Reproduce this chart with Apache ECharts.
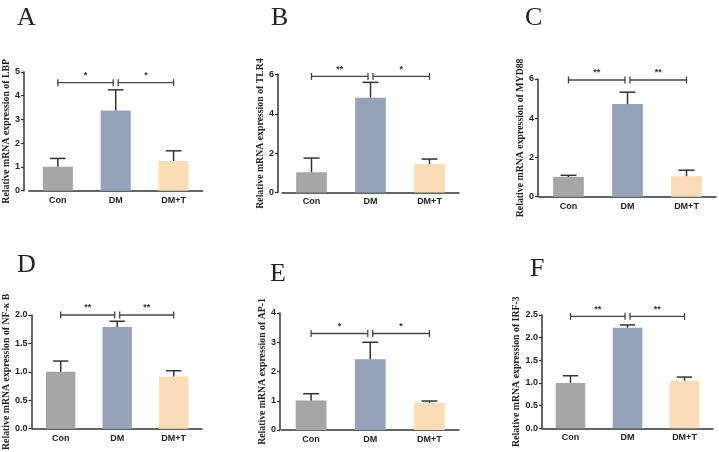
<!DOCTYPE html>
<html>
<head>
<meta charset="utf-8">
<script src="https://cdn.jsdelivr.net/npm/echarts@6/dist/echarts.min.js"></script>
<style>
html,body{margin:0;padding:0;background:#fff}
#chart{width:719px;height:452px}
</style>
</head>
<body>
<div id="chart"></div>
<script>
// groups and colours
var categories = ['Con', 'DM', 'DM+T'];
var barColors = ['#a6a6a6', '#95a2b8', '#fbdcb8'];

// one entry per panel A..F
var panelLetters = ['A', 'B', 'C', 'D', 'E', 'F'];
var genes = ['LBP', 'TLR4', 'MYD88', 'NF-κ B', 'AP-1', 'IRF-3'];

// mean and upper SD
var meanLBP = [1.01, 3.38, 1.25];   var sdLBP = [0.35, 0.87, 0.43];
var meanTLR4 = [1.03, 4.82, 1.45];  var sdTLR4 = [0.72, 0.78, 0.25];
var meanMYD88 = [1.01, 4.72, 1.05]; var sdMYD88 = [0.08, 0.61, 0.30];
var meanNFKB = [1.00, 1.79, 0.92];  var sdNFKB = [0.19, 0.10, 0.10];
var meanAP1 = [1.01, 2.42, 0.93];   var sdAP1 = [0.23, 0.58, 0.06];
var meanIRF3 = [1.00, 2.22, 1.05];  var sdIRF3 = [0.16, 0.06, 0.08];

var means = [meanLBP, meanTLR4, meanMYD88, meanNFKB, meanAP1, meanIRF3];
var sds = [sdLBP, sdTLR4, sdMYD88, sdNFKB, sdAP1, sdIRF3];

// y axes
var yMax = [5, 6, 6, 2, 4, 2.5];
var yStep = [1, 2, 2, 0.5, 1, 0.5];
var yDigits = [0, 0, 0, 1, 0, 1];

// significance brackets (Con vs DM, DM vs DM+T)
var bracketLevel = [4.55, 5.9, 5.95, 2.0, 3.3, 2.47];
var starsLeft = ['*', '**', '**', '**', '*', '**'];
var starsRight = ['*', '*', '**', '**', '*', '**'];

// panel boxes in px: plot left/right, y of max / y of zero, y-axis offset, name gap
var boxes = [
	{l: 25, r: 202.5, t: 72, b: 190.7, off: 5, gap: 10.5},
	{l: 282, r: 459, t: 74.5, b: 192.5, off: 4, gap: 9},
	{l: 539, r: 716, t: 79, b: 196.7, off: 1, gap: 12},
	{l: 30, r: 202, t: 315, b: 429.3, off: 1, gap: 19.5},
	{l: 281.5, r: 459, t: 313, b: 430, off: 1.5, gap: 11.5},
	{l: 542, r: 713, t: 315, b: 428.3, off: 0, gap: 20.5}
];
var letterPos = [[17, 7], [271, 7], [525, 7], [17, 254], [270, 263], [530, 258]];

var axisColor = '#333';
var sansFont = '"Liberation Sans", Arial, sans-serif';
var serifFont = '"Liberation Serif", "Times New Roman", serif';

function errRender(params, api){
	var x = api.value(0), m = api.value(1), s = api.value(2);
	var base = api.coord([x, m]);
	var tip = api.coord([x, m + s]);
	var half = api.size([1, 0])[0] * 0.135;
	var st = {stroke: axisColor, lineWidth: 1.5};
	return {type: 'group', children: [
		{type: 'line', shape: {x1: base[0], y1: base[1], x2: tip[0], y2: tip[1]}, style: st},
		{type: 'line', shape: {x1: tip[0] - half, y1: tip[1], x2: tip[0] + half, y2: tip[1]}, style: st}
	]};
}

function makeBracketRender(k){
	return function(params, api){
		var a = api.coord([api.value(0), api.value(2)]);
		var b = api.coord([api.value(1), api.value(2)]);
		var x1 = a[0], x2 = b[0], y = a[1];
		if(params.dataIndex == 0){ x2 -= 2.5; } else { x1 += 2.5; }
		var star = params.dataIndex == 0 ? starsLeft[k] : starsRight[k];
		var st = {stroke: '#444', lineWidth: 1.3};
		return {type: 'group', children: [
			{type: 'line', shape: {x1: x1, y1: y, x2: x2, y2: y}, style: st},
			{type: 'line', shape: {x1: x1, y1: y - 3.5, x2: x1, y2: y + 3.5}, style: st},
			{type: 'line', shape: {x1: x2, y1: y - 3.5, x2: x2, y2: y + 3.5}, style: st},
			{type: 'text', x: (x1 + x2) / 2, y: y - 2.5, style: {
				text: star, align: 'center', verticalAlign: 'bottom',
				font: 'bold 9px ' + sansFont, fill: '#333'
			}}
		]};
	};
}

var grids = [], xAxes = [], yAxes = [], series = [], graphics = [];
for(var k = 0; k < 6; k++){
	var bx = boxes[k];
	grids.push({left: bx.l, top: bx.t, width: bx.r - bx.l, height: bx.b - bx.t});
	xAxes.push({
		type: 'category', gridIndex: k, data: categories,
		axisLine: {lineStyle: {color: axisColor, width: 1.5}},
		axisTick: {alignWithLabel: true, length: 3, lineStyle: {color: axisColor, width: 1.3}},
		axisLabel: {margin: 5, color: '#222', fontFamily: sansFont, fontWeight: 'bold', fontSize: 9}
	});
	(function(d){
		yAxes.push({
			type: 'value', gridIndex: k, min: 0, max: yMax[k], interval: yStep[k],
			offset: bx.off,
			name: 'Relative mRNA expression of ' + genes[k],
			nameLocation: 'middle', nameGap: bx.gap,
			nameTextStyle: {fontFamily: serifFont, fontWeight: 'bold', fontSize: 9.8, color: '#222'},
			splitLine: {show: false},
			axisLine: {show: true, lineStyle: {color: axisColor, width: 1.5}},
			axisTick: {show: true, length: 3, lineStyle: {color: axisColor, width: 1.3}},
			axisLabel: {margin: 4, color: '#222', fontFamily: sansFont, fontWeight: 'bold', fontSize: 9,
				formatter: function(v){ return v.toFixed(d); }}
		});
	})(yDigits[k]);

	var barData = [], errData = [];
	for(var i = 0; i < categories.length; i++){
		barData.push({value: means[k][i], itemStyle: {color: barColors[i]}});
		errData.push([i, means[k][i], sds[k][i]]);
	}
	series.push({type: 'bar', xAxisIndex: k, yAxisIndex: k, data: barData, barWidth: '52%'});
	series.push({type: 'custom', xAxisIndex: k, yAxisIndex: k, data: errData, renderItem: errRender, z: 3});
	series.push({type: 'custom', xAxisIndex: k, yAxisIndex: k,
		data: [[0, 1, bracketLevel[k]], [1, 2, bracketLevel[k]]],
		renderItem: makeBracketRender(k), z: 4});

	graphics.push({type: 'text', left: letterPos[k][0], top: letterPos[k][1] - 2,
		style: {text: panelLetters[k], font: '26px ' + serifFont, fill: '#222'}});
}

var charts = echarts.init(document.getElementById('chart'));
charts.setOption({
	animation: false,
	grid: grids,
	xAxis: xAxes,
	yAxis: yAxes,
	series: series,
	graphic: graphics
});
</script>
</body>
</html>
